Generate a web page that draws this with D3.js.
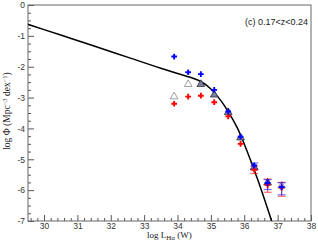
<!DOCTYPE html>
<html>
<head>
<meta charset="utf-8">
<script src="https://cdn.jsdelivr.net/npm/d3@7"></script>
<style>
  body { margin: 0; background: #fff; }
  svg { display: block; }
</style>
</head>
<body>
<svg id="lf"></svg>
<script>
margin = ({ top: 5, right: 7, bottom: 25, left: 28 })
width = 318;
height = 246;

// luminosity bins (log L_Halpha, W)
const logL = [33.90, 34.32, 34.70, 35.10, 35.52, 35.89, 36.30, 36.70, 37.12];
// blue and red estimates of log phi
const phiBlue = [-1.67, -2.18, -2.24, -2.75, -3.45, -4.27, -5.20, -5.77, -5.90];
const phiRed = [-3.20, -2.97, -2.94, -3.15, -3.61, -4.50, -5.34, -5.83, -5.92];
// triangles (open = 0, filled = 1)
const phiTri = [-2.97, -2.57, -2.57, -2.91, -3.48, -4.30, -5.27, -5.76, -5.86];
const triFilled = [0, 0, 1, 1, 1, 1, 1, 1, 0];
// error bars, only for the bright bins
const blueErrHi = [null, null, null, null, null, null, -5.12, -5.66, -5.76];
const blueErrLo = [null, null, null, null, null, null, -5.32, -5.98, -6.15];
const redErrHi = [null, null, null, null, null, null, -5.22, -5.64, -5.75];
const redErrLo = [null, null, null, null, null, null, -5.46, -6.07, -6.20];

// fitted curve
const curveLogL = [29.5, 30.5, 31.5, 32.5, 33.5, 34.0, 34.4, 34.7, 35.0, 35.3, 35.5, 35.8, 36.1, 36.4, 36.82];
const curveLogPhi = [-0.62, -0.975, -1.33, -1.69, -2.05, -2.22, -2.35, -2.48, -2.72, -3.10, -3.42, -4.00, -4.78, -5.65, -7.0];

const xTicks = [30, 31, 32, 33, 34, 35, 36, 37, 38];
const yTicks = [0, -1, -2, -3, -4, -5, -6, -7];

const svg = d3.select("#lf")
    .attr("width", width)
    .attr("height", height)
    .attr("viewBox", [0, 0, width, height]);

x = d3.scaleLinear()
    .domain([29.52, 38])
    .range([margin.left, width - margin.right]);
y = d3.scaleLinear()
    .domain([0, -7])
    .range([margin.top, height - margin.bottom]);

const minorX = d3.range(29.6, 38.001, 0.2).filter(v => Math.abs(v - Math.round(v)) > 0.01);
const minorY = d3.range(0, -7.001, -0.25).filter(v => Math.abs(v - Math.round(v)) > 0.01);

// minor ticks
svg.append("g")
    .attr("transform", `translate(0, ${height - margin.bottom})`)
    .call(d3.axisBottom(x).tickValues(minorX).tickSize(-3).tickFormat(""))
    .call(g => g.select(".domain").remove());
svg.append("g")
    .attr("transform", `translate(${margin.left}, 0)`)
    .call(d3.axisLeft(y).tickValues(minorY).tickSize(-3).tickFormat(""))
    .call(g => g.select(".domain").remove());

// major ticks
svg.append("g")
    .attr("transform", `translate(0, ${height - margin.bottom})`)
    .call(d3.axisBottom(x).tickValues(xTicks).tickSize(-6).tickPadding(2).tickFormat(d3.format("d")))
    .call(g => g.select(".domain").remove());
svg.append("g")
    .attr("transform", `translate(${margin.left}, 0)`)
    .call(d3.axisLeft(y).tickValues(yTicks).tickSize(-6).tickPadding(3).tickFormat(d => d === 0 ? "0" : "-" + Math.abs(d)))
    .call(g => g.select(".domain").remove());

svg.selectAll(".tick line").attr("stroke", "#555");
svg.selectAll(".tick text")
    .attr("fill", "#333")
    .style("font-family", "Liberation Sans, Arial, sans-serif")
    .style("font-size", "8.5px");

// frame
svg.append("rect")
    .attr("x", margin.left)
    .attr("y", margin.top)
    .attr("width", width - margin.left - margin.right)
    .attr("height", height - margin.top - margin.bottom)
    .attr("fill", "none")
    .attr("stroke", "#666");

svg.append("clipPath").attr("id", "plot")
    .append("rect")
    .attr("x", margin.left)
    .attr("y", margin.top)
    .attr("width", width - margin.left - margin.right)
    .attr("height", height - margin.top - margin.bottom);

// curve
const line = d3.line()
    .x((d, i) => x(curveLogL[i]))
    .y(d => y(d))
    .curve(d3.curveMonotoneX);

svg.append("path")
    .attr("clip-path", "url(#plot)")
    .attr("d", line(curveLogPhi))
    .attr("fill", "none")
    .attr("stroke", "#000")
    .attr("stroke-width", 1.5);

// error bars
function errBars(hi, lo, colour) {
    const idx = d3.range(logL.length).filter(i => hi[i] != null);
    const g = svg.append("g").attr("stroke", colour).attr("stroke-opacity", 0.55).attr("stroke-width", 1.2);
    g.selectAll("line.v").data(idx).join("line")
        .attr("x1", i => x(logL[i])).attr("x2", i => x(logL[i]))
        .attr("y1", i => y(hi[i])).attr("y2", i => y(lo[i]));
    g.selectAll("line.hi").data(idx).join("line")
        .attr("x1", i => x(logL[i]) - 4).attr("x2", i => x(logL[i]) + 4)
        .attr("y1", i => y(hi[i])).attr("y2", i => y(hi[i]));
    g.selectAll("line.lo").data(idx).join("line")
        .attr("x1", i => x(logL[i]) - 4).attr("x2", i => x(logL[i]) + 4)
        .attr("y1", i => y(lo[i])).attr("y2", i => y(lo[i]));
}

// triangles
const tri = d3.symbol().type(d3.symbolTriangle).size(26);
svg.append("g")
    .selectAll("path")
    .data(d3.range(logL.length))
    .join("path")
    .attr("d", tri)
    .attr("transform", i => `translate(${x(logL[i])}, ${y(phiTri[i])})`)
    .attr("fill", i => triFilled[i] ? "#7a7ea6" : "#fff")
    .attr("stroke", i => triFilled[i] ? "#333" : "#888")
    .attr("stroke-width", 0.8);

errBars(redErrHi, redErrLo, "#ff0000");
errBars(blueErrHi, blueErrLo, "#0000ff");

const cross = d3.symbol().type(d3.symbolCross).size(18);
svg.append("g")
    .selectAll("path")
    .data(phiRed)
    .join("path")
    .attr("d", cross)
    .attr("transform", (d, i) => `translate(${x(logL[i])}, ${y(d)})`)
    .attr("fill", "#ff0000");
svg.append("g")
    .selectAll("path")
    .data(phiBlue)
    .join("path")
    .attr("d", cross)
    .attr("transform", (d, i) => `translate(${x(logL[i])}, ${y(d)})`)
    .attr("fill", "#0000ff");

// title
svg.append("text")
    .attr("x", 308)
    .attr("y", 25)
    .attr("text-anchor", "end")
    .style("font-family", "Liberation Sans, Arial, sans-serif")
    .style("font-size", "9px")
    .attr("fill", "#222")
    .text("(c) 0.17<z<0.24");

// axis labels
const ylab = svg.append("text")
    .attr("transform", "translate(10, 111) rotate(-90)")
    .attr("text-anchor", "middle")
    .style("font-family", "Liberation Serif, Times New Roman, serif")
    .style("font-size", "9.5px")
    .attr("fill", "#222");
ylab.append("tspan").text("log \u03a6 (Mpc");
ylab.append("tspan").attr("dy", -3.5).style("font-size", "6.5px").text("\u22123");
ylab.append("tspan").attr("dy", 3.5).text(" dex");
ylab.append("tspan").attr("dy", -3.5).style("font-size", "6.5px").text("\u22121");
ylab.append("tspan").attr("dy", 3.5).text(")");

const xlab = svg.append("text")
    .attr("x", 147)
    .attr("y", 237.5)
    .style("font-family", "Liberation Serif, Times New Roman, serif")
    .style("font-size", "9px")
    .attr("fill", "#222");
xlab.append("tspan").text("log L");
xlab.append("tspan").attr("dy", 2).style("font-size", "7px").text("H\u03b1");
xlab.append("tspan").attr("dy", -2).text(" (W)");
</script>
</body>
</html>
